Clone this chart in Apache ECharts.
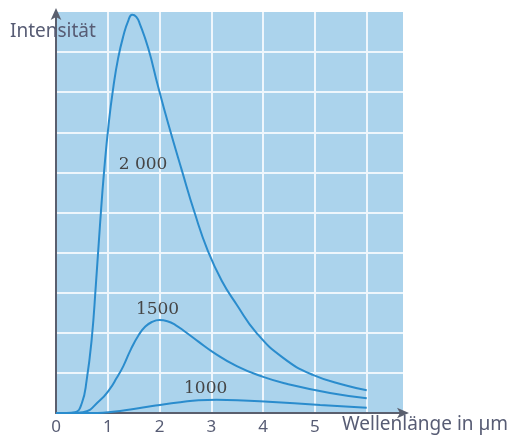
<!DOCTYPE html>
<html>
<head>
<meta charset="utf-8">
<script src="https://cdn.jsdelivr.net/npm/echarts@6/dist/echarts.min.js"></script>
<style>
  html, body { margin: 0; padding: 0; background: #fff; }
  #chart { width: 512px; height: 440px; }
</style>
</head>
<body>
<div id="chart"></div>
<script>
// Wellenlänge (µm) und Intensität je Temperaturkurve
const wl2000 = [0, 0.2, 0.37, 0.5, 0.59, 0.69, 0.77, 0.85, 0.93, 1.02, 1.11, 1.2, 1.3, 1.4, 1.47, 1.55, 1.62, 1.78, 1.97, 2.17, 2.43, 2.68, 2.93, 3.2, 3.49, 3.87, 4.38, 4.96, 5.62, 6.0];
const int2000 = [0, 0, 0.02, 0.25, 0.8, 1.85, 3.2, 4.7, 6.05, 7.25, 8.15, 8.85, 9.4, 9.8, 9.93, 9.88, 9.7, 9.1, 8.15, 7.2, 6.05, 4.98, 4.05, 3.3, 2.7, 2.0, 1.38, 0.95, 0.68, 0.57];

const wl1500 = [0, 0.3, 0.52, 0.85, 1.04, 1.17, 1.3, 1.45, 1.6, 1.72, 1.85, 2.0, 2.15, 2.3, 2.5, 2.75, 3.03, 3.49, 4.0, 4.45, 5.29, 6.0];
const int1500 = [0, 0, 0.02, 0.32, 0.6, 0.87, 1.17, 1.6, 1.95, 2.15, 2.27, 2.32, 2.29, 2.2, 2.02, 1.78, 1.52, 1.17, 0.9, 0.73, 0.5, 0.37];

const wl1000 = [0, 0.8, 1.1, 1.5, 1.8, 2.1, 2.4, 2.75, 3.1, 3.5, 4.1, 5.1, 6.0];
const int1000 = [0, 0, 0.03, 0.1, 0.16, 0.22, 0.27, 0.32, 0.33, 0.32, 0.28, 0.2, 0.13];

const curveNames = ['2 000', '1500', '1000'];
const xTickLabels = ['0', '1', '2', '3', '4', '5'];

const zip = (xs, ys) => xs.map((x, i) => [x, ys[i]]);

const chart = echarts.init(document.getElementById('chart'));

const textColor = '#575c74';
const axisColor = '#5a5f6e';
const curveColor = '#2a8ccd';

const curveSeries = (name, data, labelCoord) => ({
  name: name,
  type: 'line',
  data: data,
  smooth: 0.5,
  showSymbol: false,
  lineStyle: { color: curveColor, width: 2 },
  markPoint: {
    symbol: 'circle',
    symbolSize: 0,
    data: [{ coord: labelCoord, value: name }],
    label: {
      show: true,
      position: 'inside',
      formatter: name,
      fontFamily: 'DejaVu Serif',
      fontSize: 17,
      color: '#454545'
    }
  }
});

chart.setOption({
  animation: false,
  grid: {
    left: 56,
    right: 109,
    top: 12,
    bottom: 27,
    show: true,
    backgroundColor: '#abd3ec',
    borderWidth: 0
  },
  xAxis: {
    type: 'value',
    min: 0,
    max: 6.7,
    interval: 1,
    axisLine: {
      show: true,
      symbol: ['none', 'arrow'],
      symbolSize: [8, 12],
      symbolOffset: [0, 6],
      lineStyle: { color: axisColor, width: 2 }
    },
    axisTick: { show: false },
    axisLabel: {
      color: textColor,
      fontFamily: 'Noto Sans',
      fontSize: 17,
      margin: 6,
      formatter: v => (Number.isInteger(v) && v < xTickLabels.length ? xTickLabels[v] : '')
    },
    splitLine: {
      show: true,
      showMinLine: false,
      showMaxLine: false,
      lineStyle: { color: '#eef6fc', width: 2 }
    }
  },
  yAxis: {
    type: 'value',
    min: 0,
    max: 10,
    interval: 1,
    axisLine: {
      show: true,
      symbol: ['none', 'arrow'],
      symbolSize: [8, 12],
      symbolOffset: [0, 4],
      lineStyle: { color: axisColor, width: 2 }
    },
    axisTick: { show: false },
    axisLabel: { show: false },
    splitLine: {
      show: true,
      showMinLine: false,
      showMaxLine: false,
      lineStyle: { color: '#eef6fc', width: 2 }
    }
  },
  graphic: [
    {
      type: 'text',
      left: 10,
      top: 22,
      z: 100,
      style: { text: 'Intensität', fill: textColor, font: '19px "Noto Sans"' }
    },
    {
      type: 'text',
      left: 342,
      top: 415,
      z: 100,
      style: { text: 'Wellenlänge in µm', fill: textColor, font: '19px "Noto Sans"' }
    }
  ],
  series: [
    curveSeries(curveNames[0], zip(wl2000, int2000), [1.68, 6.2]),
    curveSeries(curveNames[1], zip(wl1500, int1500), [1.96, 2.57]),
    curveSeries(curveNames[2], zip(wl1000, int1000), [2.89, 0.61])
  ]
});
</script>
</body>
</html>
